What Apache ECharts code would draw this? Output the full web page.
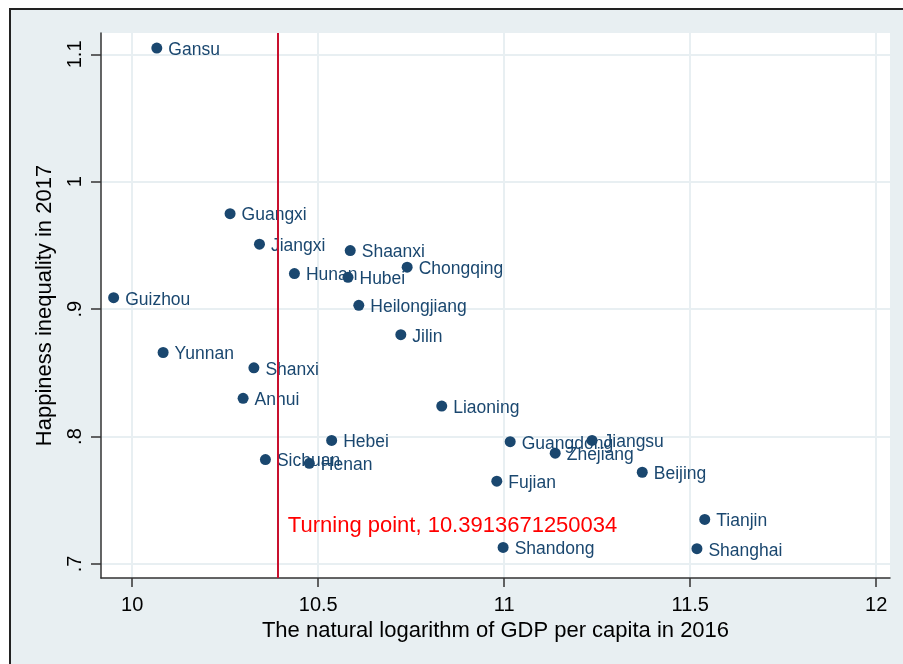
<!DOCTYPE html>
<html><head><meta charset="utf-8">
<script src="https://cdn.jsdelivr.net/npm/echarts@6/dist/echarts.min.js"></script>
<style>html,body{margin:0;padding:0;background:#fff}#c{width:903px;height:664px}</style>
</head><body><div id="c"></div>
<script>
const provinces = ['Gansu','Guangxi','Jiangxi','Shaanxi','Chongqing','Hunan','Hubei','Guizhou','Heilongjiang','Jilin','Yunnan','Shanxi','Anhui','Liaoning','Hebei','Sichuan','Henan','Guangdong','Jiangsu','Zhejiang','Beijing','Fujian','Tianjin','Shandong','Shanghai'];
const gdpLog = [10.066,10.263,10.342,10.586,10.739,10.436,10.580,9.950,10.609,10.722,10.083,10.327,10.298,10.832,10.536,10.358,10.476,11.016,11.236,11.137,11.371,10.980,11.539,10.997,11.518];
const inequality = [1.105,0.975,0.951,0.946,0.933,0.928,0.925,0.909,0.903,0.880,0.866,0.854,0.830,0.824,0.797,0.782,0.779,0.796,0.797,0.787,0.772,0.765,0.735,0.713,0.712];
const xTicks = [10,10.5,11,11.5,12];
const xTickLabels = ['10','10.5','11','11.5','12'];
const yTicks = [0.7,0.8,0.9,1.0,1.1];
const yTickLabels = ['.7','.8','.9','1','1.1'];
const turningPoint = 10.3913671250034;
const turningText = 'Turning point, 10.3913671250034';
const turningTextY = 0.730;

const FONT = '"Liberation Sans", Arial, sans-serif';
const navy = '#1a476f';
const bg = '#e8eff2';

const data = provinces.map((p,i)=>({name:p, value:[gdpLog[i], inequality[i]]}));

const chart = echarts.init(document.getElementById('c'), null, {renderer:'canvas'});
chart.setOption({
  animation:false,
  textStyle:{fontFamily:FONT},
  graphic:[{type:'rect', left:9, top:8, z:-10, shape:{width:1000,height:1000},
    style:{fill:bg, stroke:'#222', lineWidth:2}}],
  grid:{left:101, top:33, right:13, bottom:86, show:true, backgroundColor:'#fff', borderWidth:0},
  xAxis:{type:'value', min:9.916, max:12.037,
    name:'The natural logarithm of GDP per capita in 2016', nameLocation:'middle', nameGap:39,
    nameTextStyle:{fontSize:22, color:'#000', fontFamily:FONT},
    axisLine:{show:true, onZero:false, lineStyle:{color:'#333', width:1.5}},
    axisTick:{show:true, length:9, customValues:xTicks, lineStyle:{color:'#333', width:1.5}},
    axisLabel:{customValues:xTicks, fontSize:20, color:'#000', margin:17, fontFamily:FONT,
      formatter:v=>{const i=xTicks.findIndex(t=>Math.abs(t-v)<1e-6);return i>=0?xTickLabels[i]:'';}},
    splitLine:{show:true, lineStyle:{color:bg, width:2}}
  },
  yAxis:{type:'value', min:0.689, max:1.1168,
    name:'Happiness inequality in 2017', nameLocation:'middle', nameGap:45, nameRotate:90,
    nameTextStyle:{fontSize:22, color:'#000', fontFamily:FONT},
    axisLine:{show:true, onZero:false, lineStyle:{color:'#333', width:1.5}},
    axisTick:{show:true, length:10, customValues:yTicks, lineStyle:{color:'#333', width:1.5}},
    axisLabel:{customValues:yTicks, rotate:90, fontSize:20, color:'#000', margin:16, fontFamily:FONT,
      formatter:v=>{const i=yTicks.findIndex(t=>Math.abs(t-v)<1e-6);return i>=0?yTickLabels[i]:'';}},
    splitLine:{show:true, lineStyle:{color:bg, width:2}}
  },
  series:[{
    type:'scatter', data:data, symbol:'circle', symbolSize:11,
    itemStyle:{color:navy, opacity:1},
    label:{show:true, position:'right', distance:6, offset:[0,2], formatter:'{b}', fontSize:17.5, color:navy, fontFamily:FONT},
    markLine:{silent:true, symbol:'none', label:{show:false},
      lineStyle:{color:'#c8102e', width:2, type:'solid', opacity:1},
      data:[{xAxis:turningPoint}]},
    markPoint:{silent:true, symbol:'circle', symbolSize:0,
      label:{show:true, position:'right', distance:10, formatter:turningText, fontSize:22, color:'#ff0000', fontFamily:FONT},
      data:[{coord:[turningPoint, turningTextY]}]}
  }]
});
</script></body></html>
